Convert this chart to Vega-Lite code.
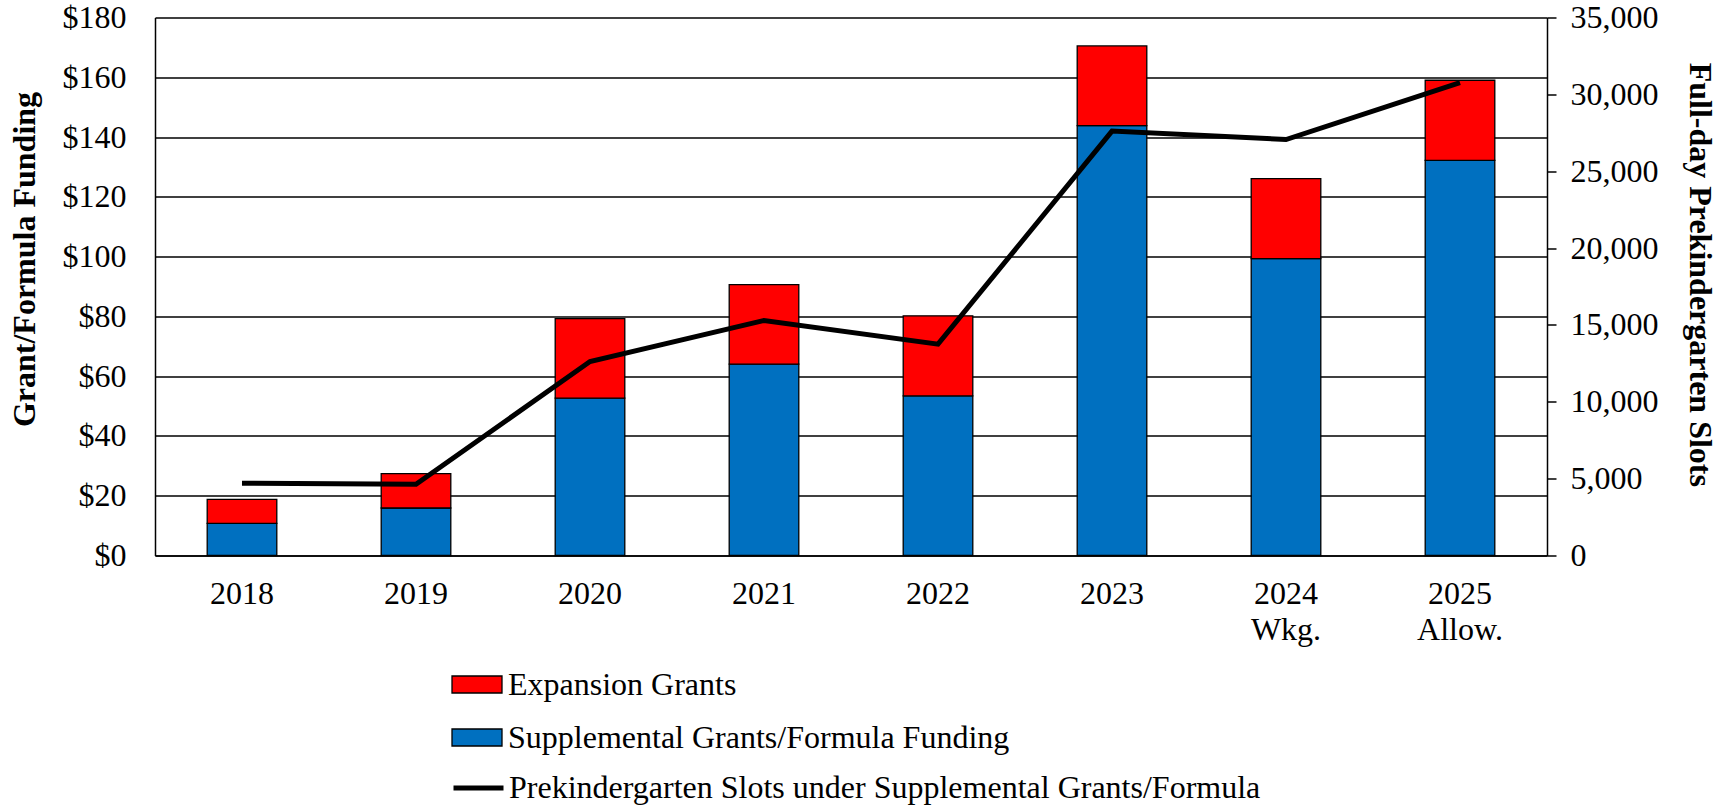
{
  "$schema": "https://vega.github.io/schema/vega-lite/v6.json",
  "width": 1392,
  "height": 538,
  "autosize": {"type": "none"},
  "padding": {"left": 155, "top": 17.5, "right": 171, "bottom": 250.5},
  "background": "white",
  "config": {
    "font": "Liberation Serif",
    "view": {"stroke": null},
    "axis": {
      "labelFont": "Liberation Serif",
      "titleFont": "Liberation Serif",
      "labelColor": "black",
      "titleColor": "black",
      "domainColor": "black",
      "domainWidth": 1.5,
      "labelFontSize": 32,
      "titleFontSize": 32,
      "titleFontWeight": "bold"
    },
    "legend": {
      "labelFont": "Liberation Serif",
      "labelFontSize": 32,
      "labelColor": "black",
      "labelLimit": 0
    }
  },
  "datasets": {
    "funding": [
      {"year": "2018", "series": "Supplemental Grants/Formula Funding", "amount": 10.75},
      {"year": "2018", "series": "Expansion Grants", "amount": 8.0},
      {"year": "2019", "series": "Supplemental Grants/Formula Funding", "amount": 15.9},
      {"year": "2019", "series": "Expansion Grants", "amount": 11.5},
      {"year": "2020", "series": "Supplemental Grants/Formula Funding", "amount": 52.65},
      {"year": "2020", "series": "Expansion Grants", "amount": 26.6},
      {"year": "2021", "series": "Supplemental Grants/Formula Funding", "amount": 64.0},
      {"year": "2021", "series": "Expansion Grants", "amount": 26.6},
      {"year": "2022", "series": "Supplemental Grants/Formula Funding", "amount": 53.4},
      {"year": "2022", "series": "Expansion Grants", "amount": 26.8},
      {"year": "2023", "series": "Supplemental Grants/Formula Funding", "amount": 143.8},
      {"year": "2023", "series": "Expansion Grants", "amount": 26.7},
      {"year": "2024 Wkg.", "series": "Supplemental Grants/Formula Funding", "amount": 99.3},
      {"year": "2024 Wkg.", "series": "Expansion Grants", "amount": 26.8},
      {"year": "2025 Allow.", "series": "Supplemental Grants/Formula Funding", "amount": 132.2},
      {"year": "2025 Allow.", "series": "Expansion Grants", "amount": 26.8}
    ],
    "slots": [
      {"year": "2018", "slots": 4705},
      {"year": "2019", "slots": 4630},
      {"year": "2020", "slots": 12620},
      {"year": "2021", "slots": 15290},
      {"year": "2022", "slots": 13750},
      {"year": "2023", "slots": 27610},
      {"year": "2024 Wkg.", "slots": 27060},
      {"year": "2025 Allow.", "slots": 30770}
    ]
  },
  "layer": [
    {
      "data": {"name": "funding"},
      "mark": {"type": "bar", "stroke": "black", "strokeWidth": 1.3},
      "encoding": {
        "x": {
          "field": "year",
          "type": "nominal",
          "sort": null,
          "scale": {"paddingInner": 0.6, "paddingOuter": 0.3},
          "axis": {
            "title": null,
            "labelAngle": 0,
            "ticks": false,
            "tickSize": 0,
            "labelPadding": 23,
            "labelBaseline": "top",
            "labelLineHeight": 36,
            "labelExpr": "split(datum.label, ' ')"
          }
        },
        "y": {
          "field": "amount",
          "type": "quantitative",
          "stack": "zero",
          "scale": {"domain": [0, 180], "nice": false},
          "axis": {
            "title": "Grant/Formula Funding",
            "values": [0, 20, 40, 60, 80, 100, 120, 140, 160, 180],
            "format": "$d",
            "grid": true,
            "gridColor": "black",
            "gridWidth": 1.3,
            "gridOpacity": 1,
            "ticks": false,
            "tickSize": 0,
            "labelPadding": 29,
            "titleAngle": 270,
            "titleAlign": "center",
            "titleBaseline": "middle",
            "titleX": -131,
            "titleY": 241.5
          }
        },
        "color": {
          "field": "series",
          "type": "nominal",
          "scale": {
            "domain": ["Expansion Grants", "Supplemental Grants/Formula Funding"],
            "range": ["#FF0000", "#0070C0"]
          },
          "legend": {
            "title": null,
            "orient": "none",
            "legendX": 296,
            "legendY": 641,
            "direction": "vertical",
            "symbolType": "M-1,-0.34H1V0.34H-1Z",
            "symbolSize": 2500,
            "symbolStrokeColor": "black",
            "symbolStrokeWidth": 1.3,
            "symbolOpacity": 1,
            "labelOffset": 5,
            "labelLimit": 0,
            "rowPadding": 11
          }
        },
        "order": {"field": "series", "sort": "descending"}
      }
    },
    {
      "data": {"name": "slots"},
      "mark": {"type": "line", "strokeWidth": 5},
      "encoding": {
        "x": {"field": "year", "type": "nominal", "sort": null},
        "y": {
          "field": "slots",
          "type": "quantitative",
          "scale": {"domain": [0, 35000], "nice": false},
          "axis": {
            "orient": "right",
            "title": "Full-day Prekindergarten Slots",
            "values": [0, 5000, 10000, 15000, 20000, 25000, 30000, 35000],
            "format": ",d",
            "grid": false,
            "ticks": true,
            "tickSize": 9,
            "tickColor": "black",
            "tickWidth": 1.5,
            "labelPadding": 14,
            "titleAngle": 90,
            "titleAlign": "center",
            "titleBaseline": "middle",
            "titleX": 152,
            "titleY": 256.8
          }
        },
        "stroke": {
          "datum": "Prekindergarten Slots under Supplemental Grants/Formula",
          "type": "nominal",
          "scale": {"range": ["black"]},
          "legend": {
            "title": null,
            "orient": "none",
            "legendX": 296,
            "legendY": 743,
            "symbolType": "stroke",
            "symbolSize": 2500,
            "symbolStrokeWidth": 5,
            "symbolStrokeColor": "black",
            "labelOffset": 3,
            "labelLimit": 0
          }
        }
      }
    }
  ],
  "resolve": {"scale": {"y": "independent"}}
}
